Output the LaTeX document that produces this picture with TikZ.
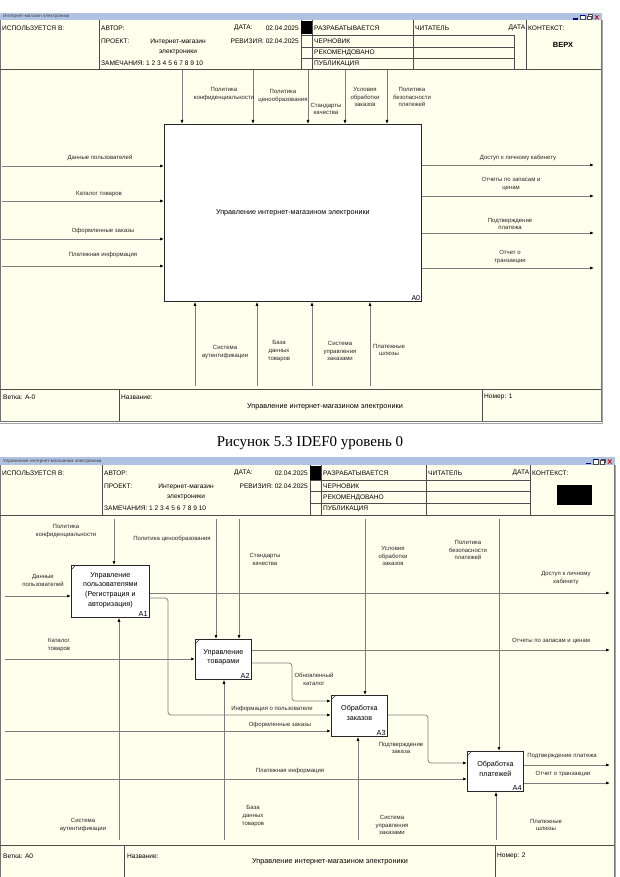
\documentclass[tikz,border=0pt]{standalone}
\usepackage{fontspec}
\setmainfont{Liberation Sans}
\newfontfamily\capfont{Liberation Serif}
\usetikzlibrary{arrows.meta}

\definecolor{cream}{RGB}{255,255,238}
\definecolor{tbar}{RGB}{176,194,226}
\definecolor{linegray}{RGB}{125,125,125}

\tikzset{
  arr/.style={draw=linegray, line width=0.7pt, -{Latex[length=4pt,width=3pt,color=black]}},
  lbl/.style={font=\fontsize{6}{7.7}\selectfont, align=center, inner sep=0pt, text=black!85},
  fbox/.style={draw=black!85, line width=0.8pt, fill=white, anchor=north west, inner sep=0pt},
  btxt/.style={font=\fontsize{7.2}{9.6}\selectfont, align=center, inner sep=0pt},
  num/.style={font=\fontsize{7.3}{8}\selectfont, inner sep=0pt, anchor=south east},
  htxt/.style={font=\fontsize{6.6}{8}\selectfont, anchor=west, inner sep=0pt},
  hc/.style={font=\fontsize{6.6}{8}\selectfont, inner sep=0pt},
  ttl/.style={font=\fontsize{4.6}{5}\selectfont, anchor=west, inner sep=0pt, text=black!75},
  hl/.style={draw=black!70, line width=0.5pt},
  fr/.style={draw=black!55, line width=1pt},
  cornertick/.style={draw=black!80, line width=0.5pt},
}

\newcommand{\mywinicons}[2]{%
  \begin{scope}[shift={(#1,#2)}]
    \fill[blue!55!black] (0,4) rectangle (5,5.4);
    \draw[black!70, line width=0.4pt, fill=white] (7,0.5) rectangle (12,5.4);
    \fill[blue!55!black] (7,0.5) rectangle (12,1.7);
    \draw[black!70, line width=0.4pt, fill=white] (15.5,0.3) rectangle (19.5,3.5);
    \draw[black!70, line width=0.4pt, fill=white] (14,2) rectangle (18,5.4);
    \draw[red!85!black, line width=0.8pt] (22,1) -- (25.5,5) (22,5) -- (25.5,1);
  \end{scope}}

\begin{document}
\begin{tikzpicture}[x=1pt,y=-1pt]
\useasboundingbox (0,0) rectangle (620,877);
\fill[white] (0,0) rectangle (620,877);

%================ DIAGRAM 1 =================
\fill[tbar] (0,13) rectangle (602,20);
\node[ttl] (tt1) at (3,16.5) {Интернет-магазин электроники};
\mywinicons{573}{14.3}
\fill[cream] (0,20) rectangle (601,421);
\draw[fr] (0.5,20) -- (0.5,421.5) -- (601,421.5) -- (601,20);
\draw[black!35, line width=0.8pt] (0,423) -- (602.5,423) -- (602.5,20);
\draw[hl] (0,69) -- (601,69);
\draw[hl] (0,389) -- (601,389);
% header grid
\draw[hl] (99,20) -- (99,69);
\draw[hl] (301,20) -- (301,69);
\draw[hl] (312,20) -- (312,69);
\draw[hl] (413,20) -- (413,69);
\draw[hl] (514,35) -- (514,69);
\draw[hl] (526,20) -- (526,69);
\foreach \yy in {35,47,58} \draw[hl] (301,\yy) -- (514,\yy);
\fill[black] (301,21) rectangle (312,34.5);
% header text
\node[htxt] (h1a) at (2,28) {ИСПОЛЬЗУЕТСЯ В:};
\node[htxt] (h1b) at (101,28) {АВТОР:};
\node[htxt] (h1c) at (101,41) {ПРОЕКТ:};
\node[hc] (h1d) at (178,41.5) {Интернет-магазин};
\node[hc] (h1e) at (178,52) {электроники};
\node[htxt] (h1f) at (101,63) {ЗАМЕЧАНИЯ: 1 2 3 4 5 6 7 8 9 10};
\node[htxt] (h1g) at (234,28) {ДАТА:};
\node[htxt, anchor=east] (h1h) at (299,28) {02.04.2025};
\node[htxt, anchor=east] (h1i) at (299,41) {РЕВИЗИЯ: 02.04.2025};
\node[htxt] (h1j) at (314,28) {РАЗРАБАТЫВАЕТСЯ};
\node[htxt] (h1k) at (314,41) {ЧЕРНОВИК};
\node[htxt] (h1l) at (314,52.5) {РЕКОМЕНДОВАНО};
\node[htxt] (h1m) at (314,63.5) {ПУБЛИКАЦИЯ};
\node[htxt] (h1n) at (415,28) {ЧИТАТЕЛЬ};
\node[htxt, anchor=east] (h1o) at (525.5,28) {ДАТА};
\node[htxt] (h1p) at (528,28) {КОНТЕКСТ:};
\node[hc, font=\fontsize{7.5}{8}\selectfont\bfseries] (h1q) at (563,45) {ВЕРХ};
% footer
\draw[hl] (119,389) -- (119,421);
\draw[hl] (482,389) -- (482,421);
\node[htxt] (f1a) at (3,397) {Ветка: A-0};
\node[htxt] (f1b) at (121,397) {Название:};
\node[hc, font=\fontsize{7.3}{8}\selectfont] (f1c) at (325,407) {Управление интернет-магазином электроники};
\node[htxt] (f1d) at (484,397) {Номер: 1};

% box A0
\node[fbox, minimum width=257pt, minimum height=177pt] (A0) at (164,124) {};
\node[font=\fontsize{7.2}{9}\selectfont, inner sep=0pt] (A0t) at (A0.center) {Управление интернет-магазином электроники};
\node[num, font=\fontsize{7}{8}\selectfont] (A0n) at ([xshift=-1.5pt,yshift=1.5pt]A0.south east) {A0};

% controls
\coordinate (c01) at (182,70);
\coordinate (c02) at (253,70);
\coordinate (c03) at (308,70);
\coordinate (c04) at (345,70);
\coordinate (c05) at (387,70);
\foreach \c in {c01,c02,c03,c04,c05} \draw[arr] (\c) -- (\c |- A0.north);
\node[lbl] (lc01) at (224,94) {Политика\\конфиденциальности};
\node[lbl] (lc02) at (283,96) {Политика\\ценообразования};
\node[lbl] (lc03) at (326,109) {Стандарты\\качества};
\node[lbl] (lc04) at (365,97) {Условия\\обработки\\заказов};
\node[lbl] (lc05) at (412,97) {Политика\\безопасности\\платежей};

% inputs
\coordinate (i01) at (2,166);
\coordinate (i02) at (2,201);
\coordinate (i03) at (2,239);
\coordinate (i04) at (2,266);
\foreach \c in {i01,i02,i03,i04} \draw[arr] (\c) -- (\c -| A0.west);
\node[lbl] (li01) at (100,158) {Данные пользователей};
\node[lbl] (li02) at (99,194) {Каталог товаров};
\node[lbl] (li03) at (103,231) {Оформленные заказы};
\node[lbl] (li04) at (103,255) {Платежная информация};

% outputs
\coordinate (o01) at (594,165);
\coordinate (o02) at (594,196);
\coordinate (o03) at (594,233);
\coordinate (o04) at (594,268);
\foreach \c in {o01,o02,o03,o04} \draw[arr] (\c -| A0.east) -- (\c);
\node[lbl] (lo01) at (518,158) {Доступ к личному кабинету};
\node[lbl] (lo02) at (511,184) {Отчеты по запасам и\\ценам};
\node[lbl] (lo03) at (510,224) {Подтверждение\\платежа};
\node[lbl] (lo04) at (510,257) {Отчет о\\транзакции};

% mechanisms
\coordinate (m01) at (195,386);
\coordinate (m02) at (257,386);
\coordinate (m03) at (312,386);
\coordinate (m04) at (370,386);
\foreach \c in {m01,m02,m03,m04} \draw[arr] (\c) -- (\c |- A0.south);
\node[lbl] (lm01) at (225,352) {Система\\аутентификации};
\node[lbl] (lm02) at (279,351) {База\\данных\\товаров};
\node[lbl] (lm03) at (340,351) {Система\\управления\\заказами};
\node[lbl] (lm04) at (389,350) {Платежные\\шлюзы};

% caption
\node[font=\capfont\fontsize{15}{16}\selectfont, inner sep=0pt] (cap) at (310,443) {Рисунок 5.3 IDEF0 уровень 0};

%================ DIAGRAM 2 =================
\fill[tbar] (0,457) rectangle (615,465);
\node[ttl] (tt2) at (3,461) {Управление интернет-магазином электроники};
\mywinicons{586}{458.5}
\fill[cream] (0,465) rectangle (614,877);
\draw[fr] (0.5,465) -- (0.5,877) (614,465) -- (614,877);
\draw[black!35, line width=0.8pt] (615.5,465) -- (615.5,877);
\draw[hl] (0,515) -- (614,515);
\draw[hl] (0,845) -- (614,845);
% header grid
\draw[hl] (102,465) -- (102,515);
\draw[hl] (310,465) -- (310,515);
\draw[hl] (321,465) -- (321,515);
\draw[hl] (426,465) -- (426,515);
\draw[hl] (530,465) -- (530,515);
\foreach \yy in {480,491,503} \draw[hl] (310,\yy) -- (530,\yy);
\fill[black] (310,466) rectangle (321,479.5);
\fill[black] (557,485) rectangle (592,505);
% header text
\node[htxt] (h2a) at (2,473) {ИСПОЛЬЗУЕТСЯ В:};
\node[htxt] (h2b) at (104,473) {АВТОР:};
\node[htxt] (h2c) at (104,486) {ПРОЕКТ:};
\node[hc] (h2d) at (186,486.5) {Интернет-магазин};
\node[hc] (h2e) at (186,497) {электроники};
\node[htxt] (h2f) at (104,508.5) {ЗАМЕЧАНИЯ: 1 2 3 4 5 6 7 8 9 10};
\node[htxt] (h2g) at (234,473) {ДАТА:};
\node[htxt, anchor=east] (h2h) at (308,473) {02.04.2025};
\node[htxt, anchor=east] (h2i) at (308,486) {РЕВИЗИЯ: 02.04.2025};
\node[htxt] (h2j) at (323,473) {РАЗРАБАТЫВАЕТСЯ};
\node[htxt] (h2k) at (323,486) {ЧЕРНОВИК};
\node[htxt] (h2l) at (323,497.5) {РЕКОМЕНДОВАНО};
\node[htxt] (h2m) at (323,509) {ПУБЛИКАЦИЯ};
\node[htxt] (h2n) at (428,473) {ЧИТАТЕЛЬ};
\node[htxt, anchor=east] (h2o) at (529.5,473) {ДАТА};
\node[htxt] (h2p) at (532,473) {КОНТЕКСТ:};
% footer
\draw[hl] (124,845) -- (124,877);
\draw[hl] (495,845) -- (495,877);
\node[htxt] (f2a) at (3,856) {Ветка: A0};
\node[htxt] (f2b) at (127,856) {Название:};
\node[hc, font=\fontsize{7.3}{8}\selectfont] (f2c) at (330,862) {Управление интернет-магазином электроники};
\node[htxt] (f2d) at (497,856) {Номер: 2};

% boxes
\node[fbox, minimum width=78pt, minimum height=52pt] (A1) at (71,565) {};
\node[fbox, minimum width=56pt, minimum height=40pt] (A2) at (195,639) {};
\node[fbox, minimum width=56pt, minimum height=41pt] (A3) at (331,695) {};
\node[fbox, minimum width=56pt, minimum height=40pt] (A4) at (467,751) {};
\foreach \b in {A1,A2,A3,A4} \draw[cornertick] ([yshift=-5pt]\b.north west) -- ([xshift=5pt]\b.north west);
\node[btxt] (A1t) at ([yshift=1.5pt]A1.center) {Управление\\пользователями\\(Регистрация и\\авторизация)};
\node[btxt] (A2t) at ([yshift=2pt]A2.center) {Управление\\товарами};
\node[btxt] (A3t) at ([yshift=3pt]A3.center) {Обработка\\заказов};
\node[btxt] (A4t) at ([yshift=2.5pt]A4.center) {Обработка\\платежей};
\node[num] (A1n) at ([xshift=-2pt,yshift=1.5pt]A1.south east) {A1};
\node[num] (A2n) at ([xshift=-2pt,yshift=1.5pt]A2.south east) {A2};
\node[num] (A3n) at ([xshift=-2pt,yshift=1.5pt]A3.south east) {A3};
\node[num] (A4n) at ([xshift=-2pt,yshift=1.5pt]A4.south east) {A4};

% controls
\coordinate (c11) at (114,519);
\coordinate (c21) at (216,519);
\coordinate (c22) at (239,519);
\coordinate (c31) at (365,519);
\coordinate (c41) at (499,519);
\draw[arr] (c11) -- (c11 |- A1.north);
\draw[arr] (c21) -- (c21 |- A2.north);
\draw[arr] (c22) -- (c22 |- A2.north);
\draw[arr] (c31) -- (c31 |- A3.north);
\draw[arr] (c41) -- (c41 |- A4.north);
\node[lbl] (lc11) at (66,531) {Политика\\конфиденциальности};
\node[lbl] (lc21) at (172,539) {Политика ценообразования};
\node[lbl] (lc22) at (265,559.5) {Стандарты\\качества};
\node[lbl] (lc31) at (393,556) {Условия\\обработки\\заказов};
\node[lbl] (lc41) at (468,550) {Политика\\безопасности\\платежей};

% inputs
\coordinate (i11) at (5,596);
\coordinate (i21) at (5,659);
\coordinate (i31) at (5,731);
\coordinate (i41) at (5,779);
\draw[arr] (i11) -- (i11 -| A1.west);
\draw[arr] (i21) -- (i21 -| A2.west);
\draw[arr] (i31) -- (i31 -| A3.west);
\draw[arr] (i41) -- (i41 -| A4.west);
\node[lbl] (li11) at (43,580.5) {Данные\\пользователей};
\node[lbl] (li21) at (59,645) {Каталог\\товаров};
\node[lbl] (li31) at (280,725) {Оформленные заказы};
\node[lbl] (li41) at (290,771) {Платежная информация};

% outputs to boundary
\coordinate (o11) at (610,593);
\coordinate (o21) at (610,650);
\coordinate (o41) at (610,765);
\coordinate (o42) at (610,783);
\draw[arr] (o11 -| A1.east) -- (o11);
\draw[arr] (o21 -| A2.east) -- (o21);
\draw[arr] (o41 -| A4.east) -- (o41);
\draw[arr] (o42 -| A4.east) -- (o42);
\node[lbl] (lo11) at (566,578) {Доступ к личному\\кабинету};
\node[lbl] (lo21) at (551,641) {Отчеты по запасам и ценам};
\node[lbl] (lo41) at (562,756) {Подтверждение платежа};
\node[lbl] (lo42) at (563,774) {Отчет о транзакции};

% internal arrows
\coordinate (p13) at (168,598);
\coordinate (q13) at (168,715);
\draw[arr, rounded corners=3pt] (p13 -| A1.east) -- (p13) -- (q13) -- (q13 -| A3.west);
\node[lbl] (l13) at (272,709) {Информация о пользователе};
\coordinate (p23) at (292,663);
\coordinate (q23) at (292,701);
\draw[arr, rounded corners=3pt] (p23 -| A2.east) -- (p23) -- (q23) -- (q23 -| A3.west);
\node[lbl] (l23) at (314,679.5) {Обновленный\\каталог};
\coordinate (p34) at (428,715);
\coordinate (q34) at (428,763);
\draw[arr, rounded corners=3pt] (p34 -| A3.east) -- (p34) -- (q34) -- (q34 -| A4.west);
\node[lbl] (l34) at (401,748) {Подтверждение\\заказа};

% mechanisms
\coordinate (m11) at (119,840);
\coordinate (m21) at (224,840);
\coordinate (m31) at (358,840);
\coordinate (m41) at (496,840);
\draw[arr] (m11) -- (m11 |- A1.south);
\draw[arr] (m21) -- (m21 |- A2.south);
\draw[arr] (m31) -- (m31 |- A3.south);
\draw[arr] (m41) -- (m41 |- A4.south);
\node[lbl] (lm11) at (83,825) {Система\\аутентификации};
\node[lbl] (lm21) at (253,816) {База\\данных\\товаров};
\node[lbl] (lm31) at (392,825) {Система\\управления\\заказами};
\node[lbl] (lm41) at (546,825) {Платежные\\шлюзы};
\end{tikzpicture}
\end{document}
